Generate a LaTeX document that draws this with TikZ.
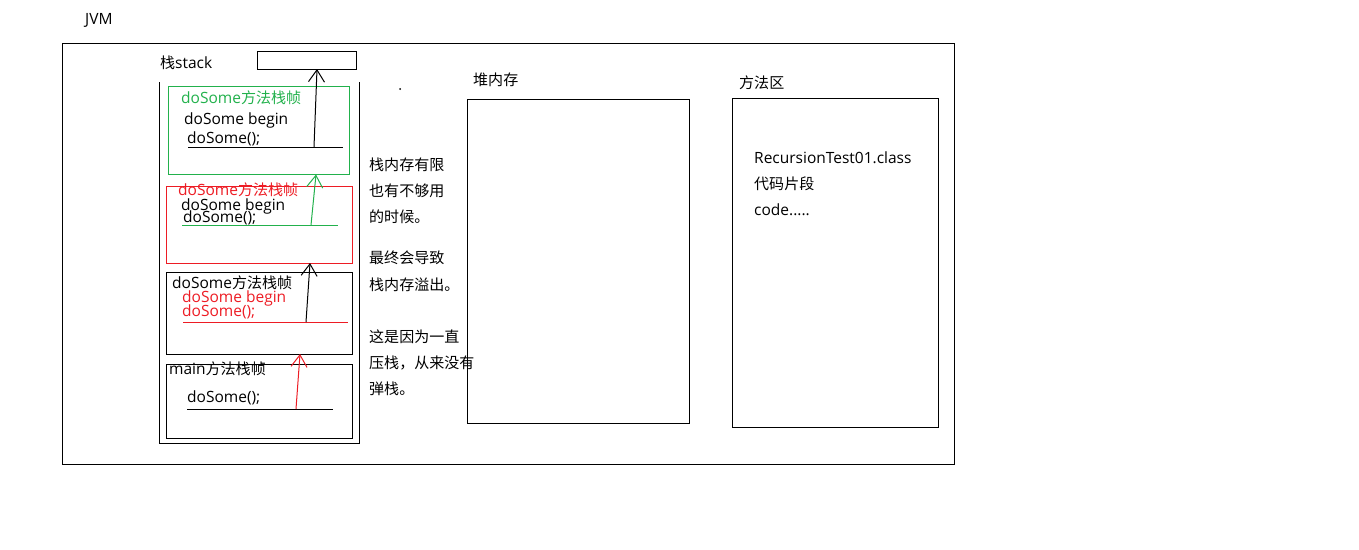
\documentclass[tikz,border=0pt]{standalone}
\usepackage{fontspec}
\setmainfont{Open Sans}
\newfontfamily\cjk[Scale=0.97]{Noto Sans CJK SC}
\definecolor{green}{RGB}{34, 177, 76}
\definecolor{red}{RGB}{237, 28, 36}
\usetikzlibrary{arrows.meta}
\tikzset{
  frame/.style={draw, line width=1pt, inner sep=0, outer sep=0},
  txt/.style={anchor=base west, inner sep=0, font=\fontsize{15.5}{18}\selectfont},
  uline/.style={line width=1pt},
  arrow/.style={-{Straight Barb[length=12pt, width=16pt]}, line width=1pt}
}
\begin{document}
\begin{tikzpicture}[x=1pt, y=-1pt]
  \useasboundingbox (0,0) rectangle (1359,549);

  \node (jvm) [txt] at (85,24) {JVM};
  \node (jvmbox) [frame, minimum width=892, minimum height=421] at (508,253.5) {};

  % stack
  \node (stacklbl) [txt] at (160,68) {{\cjk 栈}stack};
  \node (top) [frame, minimum width=99, minimum height=18] at (306.5,60) {};
  \draw [uline] (159,82) -- (159,443) -- (359,443) -- (359,82);

  \node (f1) [frame, draw=green, minimum width=181, minimum height=88] at (258.5,130.5) {};
  \node (f2) [frame, draw=red, minimum width=186, minimum height=77] at (259,224.5) {};
  \node (f3) [frame, minimum width=186, minimum height=82] at (259,313) {};
  \node (f4) [frame, minimum width=186, minimum height=74] at (259,401) {};

  \node (f1title) [txt, green] at (181,103) {doSome{\cjk 方法栈帧}};
  \node (f1begin) [txt] at (184,124) {doSome begin};
  \node (f1call) [txt] at (187,143) {doSome();};
  \node (f2title) [txt, red] at (178,195) {doSome{\cjk 方法栈帧}};
  \node (f2begin) [txt] at (181,210) {doSome begin};
  \node (f2call) [txt] at (183,222) {doSome();};
  \node (f3title) [txt] at (172,288) {doSome{\cjk 方法栈帧}};
  \node (f3begin) [txt, red] at (182,302) {doSome begin};
  \node (f3call) [txt, red] at (182,316) {doSome();};
  \node (f4title) [txt] at (169,374) {main{\cjk 方法栈帧}};
  \node (f4call) [txt] at (187,402) {doSome();};

  \draw [uline] (188,147) -- (343,147);
  \draw [uline, green] (182,225) -- (338,225);
  \draw [uline, red] (183,322) -- (348,322);
  \draw [uline] (187,409) -- (333,409);

  \coordinate (c1) at (314,147);
  \coordinate (c2) at (311,225);
  \coordinate (c3) at (306,322);
  \coordinate (c4) at (296,409);
  \draw [arrow] (c1) -- (top.south -| 317,69);
  \draw [arrow, green] (c2) -- (f1.south -| 316,174);
  \draw [arrow] (c3) -- (f2.south -| 310,263);
  \draw [arrow, red] (c4) -- (f3.south -| 300,354);

  \fill (400,89) circle (1);

  \foreach \y/\t in {170/栈内存有限, 196/也有不够用, 222/的时候。,
                     263/最终会导致, 290/栈内存溢出。,
                     342/这是因为一直, 368/压栈，从来没有, 394/弹栈。}
    \node (note\y) [txt] at (369,\y) {\cjk\t};

  % heap
  \node (heaplbl) [txt] at (473,85) {\cjk 堆内存};
  \node (heap) [frame, minimum width=222, minimum height=324] at (578,261) {};

  % method area
  \node (methodlbl) [txt] at (739,88) {\cjk 方法区};
  \node (method) [frame, minimum width=206, minimum height=329] at (835,262.5) {};
  \node (cls) [txt] at (754,163) {RecursionTest01.class};
  \node (code) [txt] at (754,189) {\cjk 代码片段};
  \node (dots) [txt] at (754,215) {code.....};
\end{tikzpicture}
\end{document}
